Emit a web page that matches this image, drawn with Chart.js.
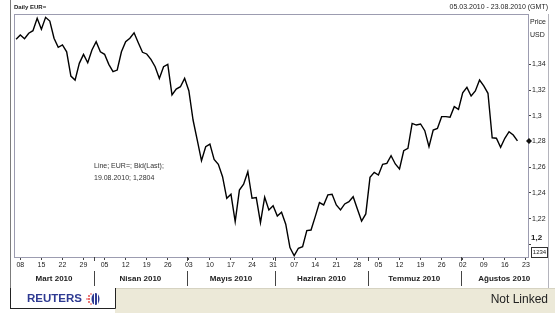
<!DOCTYPE html>
<html>
<head>
<meta charset="utf-8">
<script src="https://cdn.jsdelivr.net/npm/chart.js@4.4.0/dist/chart.umd.min.js"></script>
<style>
  html, body { margin: 0; padding: 0; background: #fff; }
  #wrap { width: 555px; height: 313px; }
</style>
</head>
<body>
<div id="wrap"><canvas id="eurChart" width="555" height="313"></canvas></div>
<script>
// EUR= daily bid (last), one value per weekday from 05.03.2010 to 19.08.2010
const eurValues = [
    1.3595, 1.3628, 1.3600, 1.3642, 1.3662, 1.3758, 1.3673, 1.3766, 1.3737, 1.3603,
    1.3533, 1.3551, 1.3498, 1.3309, 1.3278, 1.3408, 1.3478, 1.3413, 1.3512, 1.3576,
    1.3498, 1.3478, 1.3400, 1.3343, 1.3356, 1.3498, 1.3576, 1.3603, 1.3646, 1.3568,
    1.3494, 1.3481, 1.3439, 1.3382, 1.3291, 1.3382, 1.3400, 1.3162, 1.3208, 1.3226,
    1.3291, 1.3195, 1.2967, 1.2811, 1.2650, 1.2759, 1.2780, 1.2661, 1.2622, 1.2526,
    1.2358, 1.2389, 1.2176, 1.2422, 1.2467, 1.2565, 1.2358, 1.2363, 1.2168,
    1.2366, 1.2267, 1.2300, 1.2220, 1.2249, 1.2156, 1.1974, 1.1911, 1.1969, 1.1981,
    1.2106, 1.2111, 1.2215, 1.2324, 1.2306, 1.2384, 1.2389, 1.2306, 1.2267, 1.2314,
    1.2331, 1.2370, 1.2275, 1.2181, 1.2236, 1.2521, 1.2560, 1.2539, 1.2622, 1.2630,
    1.2689, 1.2625, 1.2586, 1.2728, 1.2747, 1.2941, 1.2928, 1.2936, 1.2884, 1.2759,
    1.2889, 1.2902, 1.2993, 1.2993, 1.2988, 1.3071, 1.3050, 1.3179, 1.3221, 1.3154,
    1.3193, 1.3278, 1.3232, 1.3175, 1.2829, 1.2825, 1.2755, 1.2825, 1.2876, 1.2850,
    1.2804
];
const monthNames = ['Mart 2010', 'Nisan 2010', 'Mayıs 2010', 'Haziran 2010', 'Temmuz 2010', 'Ağustos 2010'];
const yTickValues = [1.2, 1.22, 1.24, 1.26, 1.28, 1.3, 1.32, 1.34];
const firstDay = '2010-03-05';
const lastDay = '2010-08-23';

// weekdays of the axis (weekends are skipped like on the terminal chart)
const dayDates = [];
const categories = [];
for (let d = new Date(firstDay + 'T00:00:00Z'); d <= new Date(lastDay + 'T00:00:00Z'); d = new Date(d.getTime() + 86400000)) {
    const wd = d.getUTCDay();
    if (wd === 0 || wd === 6) continue;
    dayDates.push(d);
    categories.push(String(d.getUTCDate()).padStart(2, '0') + '.' + String(d.getUTCMonth() + 1).padStart(2, '0') + '.2010');
}

const narrow = "'Liberation Sans Narrow', 'Liberation Sans', Arial, sans-serif";
const arial = "'Liberation Sans', Arial, sans-serif";

function seg(c, x1, y1, x2, y2) {
    c.beginPath();
    c.moveTo(x1, y1);
    c.lineTo(x2, y2);
    c.stroke();
}

const reutersFrame = {
    id: 'reutersFrame',
    beforeDraw(chart) {
        const c = chart.ctx;
        c.save();
        c.fillStyle = '#fff';
        c.fillRect(0, 0, chart.width, chart.height);
        c.restore();
    },
    afterDraw(chart) {
        const c = chart.ctx, a = chart.chartArea, xs = chart.scales.x, ys = chart.scales.y;
        c.save();
        c.lineWidth = 1;

        // frame lines
        c.strokeStyle = '#7c7c7c';
        seg(c, 10.5, 0, 10.5, 288);
        c.strokeStyle = '#9c9cb0';
        seg(c, a.left, a.top + 0.5, a.right, a.top + 0.5);
        seg(c, a.left + 0.5, a.top, a.left + 0.5, a.bottom);
        c.strokeStyle = '#b4b4bc';
        seg(c, 548.5, a.top, 548.5, 288);

        // header texts
        c.fillStyle = '#222';
        c.textBaseline = 'middle';
        c.font = 'bold 6px ' + narrow;
        c.textAlign = 'left';
        c.fillText('Daily EUR=', 14, 7);
        c.font = '7px ' + narrow;
        c.textAlign = 'right';
        c.fillText('05.03.2010 - 23.08.2010 (GMT)', 548, 7);
        c.textAlign = 'left';
        c.fillText('Price', 530, 22);
        c.fillText('USD', 530, 35);

        // bold bottom price label and the 1234 box
        c.font = 'bold 8px ' + narrow;
        c.fillText('1,2', 531, 238);
        c.strokeStyle = '#333';
        c.strokeRect(531.5, 247.5, 16, 10);
        c.font = '6px ' + narrow;
        c.textAlign = 'center';
        c.fillText('1234', 539.5, 252.5);

        // last value marker on the price axis
        const last = eurValues[eurValues.length - 1];
        const my = ys.getPixelForValue(last);
        c.fillStyle = '#111';
        c.beginPath();
        c.moveTo(a.right + 1, my - 3);
        c.lineTo(a.right + 4, my);
        c.lineTo(a.right + 1, my + 3);
        c.lineTo(a.right - 2, my);
        c.closePath();
        c.fill();

        // month separators and names
        const seps = [];
        for (let i = 1; i < dayDates.length; i++) {
            if (dayDates[i].getUTCMonth() !== dayDates[i - 1].getUTCMonth()) {
                seps.push((xs.getPixelForValue(i - 1) + xs.getPixelForValue(i)) / 2);
            }
        }
        c.strokeStyle = '#444';
        seps.forEach(p => {
            const px = Math.round(p) + 0.5;
            seg(c, px, a.bottom, px, a.bottom + 4);
            seg(c, px, 271, px, 286);
        });
        const bounds = [a.left].concat(seps, [ys.right]);
        c.fillStyle = '#222';
        c.font = 'bold 8px ' + narrow;
        c.textAlign = 'center';
        monthNames.forEach((m, k) => {
            c.fillText(m, (bounds[k] + bounds[k + 1]) / 2, 279);
        });

        // series note inside the plot
        c.fillStyle = '#333';
        c.font = '7px ' + narrow;
        c.textAlign = 'left';
        c.fillText('Line; EUR=; Bid(Last);', 94, 166);
        c.fillText('19.08.2010; 1,2804', 94, 178);

        // bottom status bar
        c.fillStyle = '#ece9d8';
        c.fillRect(115, 288, chart.width - 115, chart.height - 288);
        c.strokeStyle = '#d6d3c2';
        seg(c, 115, 288.5, chart.width, 288.5);
        c.fillStyle = '#fff';
        c.fillRect(11, 288, 104, 20);
        c.strokeStyle = '#222';
        seg(c, 10.5, 288, 10.5, 308.5);
        seg(c, 10, 308.5, 115.5, 308.5);
        seg(c, 115.5, 288, 115.5, 308.5);

        c.fillStyle = '#2e3a92';
        c.font = 'bold 11.5px ' + arial;
        c.textAlign = 'left';
        c.fillText('REUTERS', 27, 299);
        // logo dots
        c.fillStyle = '#e23a3a';
        [[87, 299, 0.8], [89, 296, 0.9], [89, 299, 1], [89, 302, 0.9], [91, 294, 0.8], [91, 304, 0.8]].forEach(d => {
            c.beginPath();
            c.arc(d[0], d[1], d[2], 0, Math.PI * 2);
            c.fill();
        });
        c.fillStyle = '#2e3a92';
        c.beginPath();
        c.ellipse(95.5, 299, 4, 6, 0, 0, Math.PI * 2);
        c.fill();
        c.strokeStyle = '#fff';
        seg(c, 94.5, 293, 94.5, 305);
        seg(c, 97.5, 293, 97.5, 305);

        c.fillStyle = '#222';
        c.font = '12px ' + arial;
        c.textAlign = 'right';
        c.fillText('Not Linked', 548, 300);
        c.restore();
    }
};

const ctx = document.getElementById('eurChart').getContext('2d');
const eurChart = new Chart(ctx, {
    type: 'line',
    data: {
        labels: categories,
        datasets: [{
            label: 'EUR= Bid(Last)',
            data: eurValues,
            borderColor: '#000',
            borderWidth: 1.4,
            pointRadius: 0,
            tension: 0,
            fill: false
        }]
    },
    options: {
        responsive: false,
        animation: false,
        devicePixelRatio: 1,
        layout: { padding: { left: 14, right: 7, top: 14, bottom: 25 } },
        plugins: {
            legend: { display: false },
            tooltip: { enabled: false }
        },
        scales: {
            x: {
                type: 'category',
                offset: true,
                border: { display: true, color: '#9c9cb0' },
                grid: { drawOnChartArea: false, drawTicks: true, tickLength: 3, color: '#444', offset: false },
                ticks: {
                    autoSkip: false,
                    maxRotation: 0,
                    padding: 1,
                    color: '#222',
                    font: { family: narrow, size: 7 },
                    callback: function (value, index) {
                        const d = dayDates[index];
                        return d.getUTCDay() === 1 ? String(d.getUTCDate()).padStart(2, '0') : null;
                    }
                },
                afterFit: function (scale) { scale.height = 31; }
            },
            y: {
                position: 'right',
                min: 1.1901,
                max: 1.3792,
                border: { display: true, color: '#9c9cb0' },
                grid: { drawOnChartArea: false, drawTicks: true, tickLength: 3, color: '#444' },
                afterBuildTicks: function (scale) {
                    scale.ticks = yTickValues.map(v => ({ value: v }));
                },
                ticks: {
                    padding: 1,
                    color: '#222',
                    font: { family: narrow, size: 7 },
                    callback: function (value) {
                        return value === 1.2 ? '' : String(value).replace('.', ',');
                    }
                },
                afterFit: function (scale) { scale.width = 20; }
            }
        }
    },
    plugins: [reutersFrame]
});
</script>
</body>
</html>
